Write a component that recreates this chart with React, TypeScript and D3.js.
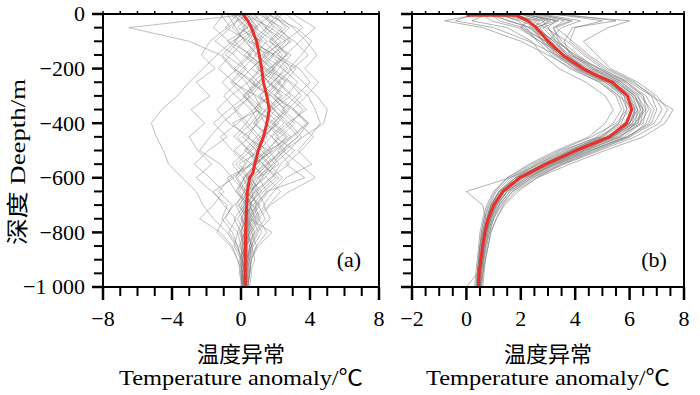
import React from "react";
import * as d3 from "d3";

// depth levels (m) for the ensemble members
const depthsA = [0, 50, 100, 150, 200, 250, 300, 350, 400, 450, 500, 550, 600, 650, 700, 750, 800, 850, 900, 950, 1000];
const depthsB = [0, 25, 50, 100, 150, 200, 250, 300, 350, 400, 450, 500, 550, 600, 650, 700, 750, 800, 850, 900, 950, 1000];

// (a) ensemble members, temperature anomaly at each depth
const membersA = [
  [0.5, -6.5, -3.0, -1.2, -0.5, 0.3, 0.8, 1.2, 0.6, -0.2, 0.4, 0.9, 0.2, -0.3, 0.5, 0.1, 0.4, 0.2, 0.0, 0.3, 0.2],
  [0.0, 0.8, -0.5, -1.4, -2.2, -3.0, -3.7, -4.6, -5.2, -4.9, -4.5, -4.2, -3.4, -2.6, -2.2, -1.6, -0.8, -0.3, 0.1, 0.0, 0.1],
  [1.5, 3.2, 4.1, 3.5, 2.8, 3.6, 4.4, 5.0, 4.8, 3.6, 2.5, 1.8, 1.2, 0.6, 0.9, 0.4, 0.7, 0.5, 0.3, 0.4, 0.3],
  [-0.8, -0.3, 0.2, -0.6, -1.3, -0.4, 0.5, -0.2, -1.1, -1.8, -2.4, -1.2, -0.5, 0.2, -0.3, 0.1, -0.2, 0.0, 0.1, 0.0, 0.1],
  [2.2, 1.4, 2.6, 1.8, 3.2, 2.5, 1.9, 3.0, 3.8, 2.9, 1.6, 2.2, 1.0, 1.5, 0.8, 1.1, 0.6, 0.9, 0.5, 0.6, 0.5],
  [0.3, 1.0, 0.4, 1.6, 0.9, 2.1, 1.3, 0.8, 2.0, 1.4, 0.6, -0.3, 0.4, -0.1, 0.6, 0.2, 0.0, 0.3, 0.2, 0.1, 0.2],
  [-1.2, -0.6, -1.5, -0.4, 0.3, -0.5, 0.9, 2.0, 1.4, 2.6, 1.9, 0.7, -0.6, -1.3, -0.5, -0.9, -0.2, -0.4, 0.0, -0.1, 0.1],
  [1.0, 2.4, 1.6, 2.9, 2.2, 1.5, 2.7, 3.6, 2.9, 2.0, 3.1, 2.3, 1.8, 0.9, 1.4, 0.7, 1.0, 0.6, 0.4, 0.5, 0.4],
  [0.6, -0.2, 1.2, 0.5, -0.4, 0.8, 0.2, 1.1, -0.5, 0.3, 1.6, 0.9, 0.1, 0.7, 0.0, 0.4, 0.2, -0.1, 0.3, 0.2, 0.1],
  [3.0, 4.3, 3.4, 2.6, 1.8, 2.9, 3.9, 4.3, 4.6, 4.0, 3.3, 4.1, 2.6, 1.9, 1.3, 1.7, 0.9, 0.6, 0.8, 0.5, 0.4],
  [-0.3, 0.9, -0.1, -0.9, 0.2, 1.0, 0.3, -0.7, -1.6, -0.8, -1.9, -2.7, -1.8, -1.0, -1.6, -2.4, -1.2, -0.5, -0.2, 0.0, 0.1],
  [1.8, 0.8, 1.9, 2.7, 1.6, 0.7, 1.8, 2.5, 1.7, 0.9, 0.2, 1.3, 2.0, 1.1, 0.5, 0.9, 0.4, 0.6, 0.3, 0.4, 0.3],
  [0.2, 1.7, 2.8, 2.1, 3.4, 4.0, 3.2, 2.4, 3.3, 4.2, 3.5, 2.6, 3.7, 1.5, 0.9, 0.4, 0.8, 0.3, 0.5, 0.3, 0.2],
  [-0.5, 0.4, -0.8, 0.1, 1.1, 0.4, -0.6, -1.4, -0.7, 0.5, -0.4, 0.6, -0.8, -0.3, 0.3, -0.2, 0.2, 0.0, 0.2, 0.1, 0.0],
  [2.6, 3.6, 2.5, 1.3, 2.4, 3.3, 2.6, 1.6, 2.5, 1.7, 1.1, -0.1, 0.5, 1.2, 0.4, 0.0, 0.5, 0.2, 0.4, 0.2, 0.3],
  [0.9, 0.1, 0.7, 1.4, 0.6, 1.7, 2.4, 1.5, 0.7, 1.8, 2.6, 1.5, 0.8, 0.3, 1.1, 0.6, 0.2, 0.7, 0.4, 0.3, 0.2],
  [-1.0, -1.6, -0.7, 0.6, -0.2, -1.1, -0.3, 0.6, 1.0, 0.1, 0.9, 1.7, 1.0, 0.6, -0.2, 0.5, 0.1, 0.3, -0.1, 0.1, 0.2],
  [1.3, 2.0, 3.1, 3.9, 3.0, 2.2, 1.4, 2.2, 3.1, 2.3, 1.5, 0.6, 1.5, 2.3, 1.6, 0.8, 1.2, 0.7, 0.5, 0.4, 0.4],
  [0.4, -0.8, -1.8, -2.3, -1.5, -2.6, -1.8, -2.9, -2.1, -3.0, -2.5, -1.7, -2.6, -1.7, -0.8, -1.1, -0.5, -0.2, 0.0, 0.1, 0.1],
  [2.0, 3.0, 3.8, 4.4, 3.7, 4.5, 3.8, 3.0, 3.9, 3.3, 2.3, 1.6, 2.4, 1.6, 1.0, 1.4, 0.8, 0.5, 0.6, 0.4, 0.4],
  [0.1, 0.6, 1.5, 0.8, 1.9, 1.1, 0.4, 1.3, 2.2, 1.2, 0.5, 1.1, 0.4, 0.9, 0.3, 0.6, 0.4, 0.2, 0.3, 0.3, 0.2],
  [-0.6, 0.2, -0.3, -1.1, -0.4, 0.6, 1.6, 0.7, -0.2, -1.2, -0.5, 0.3, -0.4, -1.6, -1.0, -0.3, -0.7, -0.2, 0.1, 0.0, 0.0],
  [1.2, 1.9, 1.0, 0.2, 1.3, 2.2, 3.0, 3.8, 2.7, 1.8, 2.4, 3.4, 4.3, 2.8, 1.7, 1.0, 1.5, 0.9, 0.6, 0.5, 0.4],
  [0.7, 1.4, 2.3, 1.5, 0.6, -0.2, -1.0, -0.3, 0.4, 1.1, 0.3, -0.5, 0.1, 0.5, 0.2, -0.4, 0.0, 0.1, 0.0, 0.2, 0.1],
  [1.6, 2.8, 2.0, 1.2, 2.0, 1.3, 0.6, -0.4, 0.2, 0.9, 1.4, 0.5, -0.2, 0.3, 1.0, 0.5, 1.8, 1.0, 0.6, 0.5, 0.3],
  [-0.2, -0.9, 0.5, 2.0, 2.7, 1.8, 1.1, 1.9, 2.8, 3.5, 2.8, 1.9, 0.9, 0.4, -0.4, -1.0, -1.4, -0.6, -0.2, 0.1, 0.1],
  [0.8, 1.5, 0.6, 1.9, 1.2, 0.5, 1.7, 2.6, 1.9, 1.1, 1.8, 0.9, 0.3, 0.8, 0.2, 0.5, 0.3, 0.4, 0.2, 0.3, 0.2],
  [-0.4, 0.3, 1.1, 0.4, 1.5, 2.3, 1.6, 0.9, 1.4, 2.2, 1.5, 0.7, 1.3, 0.6, 0.1, 0.4, -0.1, 0.2, 0.1, 0.2, 0.1],
  [1.9, 2.6, 1.7, 2.4, 1.7, 2.6, 2.0, 2.8, 2.1, 1.3, 0.8, 1.6, 0.7, 0.2, 0.6, 0.3, 0.5, 0.1, 0.3, 0.2, 0.2],
  [0.0, -0.5, 0.3, 0.9, 0.1, -0.6, 0.2, 0.9, 1.8, 2.7, 1.7, 0.8, 0.2, -0.2, 0.4, 0.0, 0.3, 0.1, 0.2, 0.1, 0.1],
  [2.4, 1.6, 0.9, 1.7, 2.5, 1.9, 1.0, 1.9, 2.6, 3.3, 2.4, 1.4, 0.6, 1.0, 0.5, 0.8, 0.3, 0.5, 0.4, 0.3, 0.3],
  [0.5, 1.2, 2.0, 2.6, 1.9, 1.0, 0.1, 0.9, 0.3, -0.4, 0.5, 1.3, 0.6, 0.1, 0.7, 0.3, 0.6, 0.3, 0.1, 0.2, 0.2],
  [1.1, 0.3, -0.4, 0.5, 1.4, 2.8, 3.5, 2.7, 1.9, 2.9, 2.0, 1.2, 2.2, 1.3, 0.7, 1.0, 0.5, 0.3, 0.4, 0.3, 0.3],
  [-0.1, 0.5, 1.3, 2.2, 2.9, 2.1, 2.9, 1.8, 0.9, 0.4, 1.2, 2.0, 1.4, 0.4, -0.1, 0.3, 0.0, 0.2, 0.3, 0.1, 0.2],
  [1.4, 2.2, 2.9, 1.8, 1.0, 1.6, 2.3, 1.4, 0.8, 1.5, 0.9, 0.2, -0.3, 0.2, 0.6, 0.2, 0.4, 0.6, 0.3, 0.2, 0.1],
  [0.3, 0.9, 0.2, 1.0, 1.7, 1.0, 2.0, 3.1, 3.9, 3.0, 2.1, 2.8, 1.7, 0.8, 0.3, 0.7, 0.2, 0.4, 0.2, 0.3, 0.2],
];

// (b) ensemble members
const membersB = [
  [0.5, -0.8, 0.6, 2.0, 3.0, 3.9, 4.9, 5.6, 6.2, 6.0, 5.4, 4.2, 3.1, 2.1, 1.4, 1.0, 0.85, 0.7, 0.62, 0.55, 0.5, 0.45],
  [2.5, 3.6, 3.2, 3.5, 4.1, 4.8, 5.9, 6.6, 6.9, 6.7, 5.9, 4.6, 3.3, 2.3, 1.6, 1.2, 0.95, 0.8, 0.7, 0.62, 0.55, 0.5],
  [1.2, 1.9, 2.2, 2.6, 3.1, 3.8, 4.9, 5.5, 5.7, 5.4, 4.8, 3.6, 2.6, 1.7, 1.2, 0.9, 0.7, 0.6, 0.5, 0.45, 0.4, 0.4],
  [3.0, 6.0, 5.2, 4.3, 4.8, 5.3, 6.3, 7.0, 7.4, 7.1, 6.2, 4.9, 3.6, 2.5, 1.7, 1.3, 1.0, 0.85, 0.75, 0.65, 0.6, 0.55],
  [0.8, 0.2, 1.5, 2.4, 2.8, 3.4, 4.4, 5.1, 5.4, 5.1, 4.5, 3.3, 2.3, 1.5, 1.0, 0.75, 0.6, 0.5, 0.45, 0.4, 0.35, 0.3],
  [2.0, 2.8, 3.0, 3.4, 3.9, 4.6, 5.6, 6.3, 6.6, 6.5, 5.6, 4.4, 3.2, 2.2, 1.5, 1.1, 0.9, 0.75, 0.65, 0.6, 0.5, 0.45],
  [1.5, 2.3, 2.0, 2.9, 3.5, 4.3, 5.4, 6.0, 6.2, 6.1, 5.2, 3.9, 2.8, 1.9, 1.3, 1.0, 0.8, 0.65, 0.6, 0.5, 0.45, 0.4],
  [3.5, 5.5, 3.9, 3.6, 3.8, 4.9, 6.0, 6.8, 7.6, 7.3, 6.5, 5.1, 3.8, 2.6, 1.9, 1.4, 1.1, 0.9, 0.8, 0.7, 0.65, 0.6],
  [0.3, -0.4, 1.0, 2.3, 3.3, 4.1, 5.1, 5.8, 6.0, 5.6, 4.9, 3.8, 2.7, 1.6, 0.0, 0.6, 0.7, 0.6, 0.5, 0.45, 0.4, 0.0],
  [2.2, 3.1, 2.6, 3.2, 3.7, 4.5, 5.5, 6.2, 6.4, 6.3, 5.5, 4.1, 3.0, 2.0, 1.4, 1.05, 0.85, 0.7, 0.6, 0.55, 0.5, 0.45],
  [1.8, 2.4, 2.9, 3.7, 4.3, 5.0, 5.9, 6.5, 6.7, 6.4, 5.8, 4.6, 3.4, 2.4, 1.6, 1.2, 0.95, 0.8, 0.7, 0.6, 0.55, 0.5],
  [2.8, 4.2, 3.5, 3.0, 3.4, 4.2, 5.2, 5.9, 6.1, 5.8, 5.0, 3.7, 2.6, 1.8, 1.2, 0.9, 0.75, 0.6, 0.55, 0.5, 0.45, 0.4],
  [1.0, 1.5, 2.4, 3.3, 4.0, 4.7, 5.7, 6.4, 6.8, 6.6, 6.0, 4.8, 3.5, 2.4, 1.7, 1.25, 1.0, 0.85, 0.7, 0.65, 0.6, 0.5],
  [2.4, 3.3, 2.5, 2.8, 3.2, 4.0, 5.1, 5.7, 5.9, 5.7, 4.9, 3.5, 2.5, 1.6, 1.1, 0.85, 0.65, 0.55, 0.5, 0.45, 0.4, 0.35],
  [0.6, 0.9, 1.9, 2.7, 3.6, 4.4, 5.4, 6.1, 6.5, 6.3, 5.4, 4.2, 3.1, 2.0, 1.3, 0.95, 0.8, 0.7, 0.6, 0.55, 0.5, 0.45],
  [3.2, 5.0, 4.0, 3.8, 4.4, 5.1, 6.1, 6.9, 7.2, 6.9, 6.0, 4.7, 3.5, 2.6, 1.8, 1.35, 1.1, 0.9, 0.8, 0.7, 0.6, 0.55],
  [1.4, 2.6, 2.3, 3.1, 3.7, 4.4, 5.3, 5.8, 5.9, 5.5, 4.6, 3.4, 2.4, 1.5, 1.05, 0.8, 0.65, 0.55, 0.5, 0.45, 0.4, 0.35],
  [2.6, 3.9, 3.3, 3.9, 4.5, 5.2, 6.2, 6.8, 7.0, 6.8, 5.9, 4.5, 3.3, 2.2, 1.5, 1.15, 0.9, 0.75, 0.65, 0.6, 0.55, 0.5],
  [0.9, 1.2, 2.1, 2.9, 3.4, 4.2, 5.2, 5.8, 6.3, 6.2, 5.3, 4.0, 3.0, 1.9, 1.2, 0.9, 0.75, 0.65, 0.55, 0.5, 0.45, 0.4],
  [2.0, 3.4, 2.8, 3.3, 4.0, 4.9, 5.7, 6.3, 6.5, 6.2, 5.7, 4.4, 3.2, 2.3, 1.5, 1.1, 0.9, 0.75, 0.65, 0.55, 0.5, 0.45],
  [1.6, 2.7, 2.5, 3.0, 3.6, 4.3, 5.3, 5.9, 6.1, 5.9, 5.2, 4.0, 2.9, 1.9, 1.3, 1.0, 0.8, 0.68, 0.6, 0.52, 0.47, 0.43],
  [2.3, 3.0, 2.7, 3.1, 3.5, 4.1, 5.2, 6.0, 6.3, 6.0, 5.1, 3.8, 2.8, 1.8, 1.25, 0.95, 0.78, 0.66, 0.58, 0.5, 0.45, 0.42],
  [1.1, 2.0, 2.6, 3.2, 3.8, 4.6, 5.6, 6.2, 6.4, 6.1, 5.4, 4.3, 3.2, 2.1, 1.5, 1.1, 0.88, 0.72, 0.64, 0.56, 0.5, 0.46],
  [2.7, 3.8, 3.2, 3.4, 3.9, 4.7, 5.8, 6.5, 6.6, 6.2, 5.3, 4.0, 2.8, 1.9, 1.3, 1.0, 0.82, 0.7, 0.6, 0.55, 0.48, 0.44],
  [0.7, 1.6, 2.3, 2.9, 3.3, 4.0, 5.0, 5.6, 5.8, 5.6, 5.0, 3.9, 2.8, 1.8, 1.2, 0.92, 0.75, 0.64, 0.56, 0.5, 0.44, 0.4],
  [1.9, 2.9, 2.4, 2.8, 3.4, 4.2, 5.5, 6.2, 6.5, 6.4, 5.6, 4.3, 3.0, 2.0, 1.4, 1.05, 0.85, 0.72, 0.62, 0.55, 0.5, 0.46],
  [2.1, 3.3, 3.0, 3.3, 3.7, 4.4, 5.4, 6.1, 6.3, 6.0, 5.2, 3.9, 2.9, 2.0, 1.4, 1.0, 0.8, 0.7, 0.62, 0.55, 0.48, 0.44],
  [1.3, 2.2, 2.0, 2.7, 3.3, 4.2, 5.2, 5.9, 6.2, 6.0, 5.3, 4.1, 3.0, 1.9, 1.35, 1.0, 0.82, 0.7, 0.6, 0.52, 0.46, 0.42],
];

// ensemble means (red)
const meanDepthsA = [0, 25, 50, 100, 150, 200, 250, 300, 350, 400, 450, 500, 550, 580, 600, 650, 700, 800, 900, 1000];
const meanA = [0.1, 0.4, 0.6, 0.9, 1.06, 1.2, 1.3, 1.5, 1.64, 1.5, 1.3, 1.0, 0.8, 0.7, 0.5, 0.37, 0.33, 0.27, 0.25, 0.25];
const meanDepthsB = [5, 5, 25, 50, 100, 150, 200, 225, 250, 300, 350, 400, 450, 500, 550, 600, 650, 700, 750, 800, 850, 900, 950, 1000];
const meanB = [0.0, 1.84, 2.26, 2.57, 3.0, 3.55, 4.28, 4.77, 5.37, 5.92, 6.08, 5.89, 5.25, 4.03, 2.94, 1.96, 1.35, 1.01, 0.8, 0.68, 0.6, 0.53, 0.47, 0.44];

const yTickValues = [0, 200, 400, 600, 800, 1000];
const yTickLabels = ["0", "\u2212200", "\u2212400", "\u2212600", "\u2212800", "\u22121 000"];
const xTicksA = [-8, -4, 0, 4, 8];
const xLabelsA = ["\u22128", "\u22124", "0", "4", "8"];
const xTicksB = [-2, 0, 2, 4, 6, 8];
const xLabelsB = ["\u22122", "0", "2", "4", "6", "8"];

const TOP = 14;
const BOTTOM = 287;
const FONT = "Liberation Serif, Times New Roman, Noto Sans CJK SC, serif";

type PanelProps = {
  id: string;
  left: number;
  right: number;
  domain: [number, number];
  minorCount: number;
  depths: number[];
  members: number[][];
  meanDepths: number[];
  meanValues: number[];
  majors: number[];
  majorLabels: string[];
  yLabels: boolean;
  tag: string;
  grayOpacity: number;
};

const Panel = (p: PanelProps) => {
  const x = d3.scaleLinear().domain(p.domain).range([p.left, p.right]);
  const y = d3.scaleLinear().domain([0, 1000]).range([TOP, BOTTOM]);
  const line = d3
    .line<[number, number]>()
    .x((d) => x(d[0]))
    .y((d) => y(d[1]));

  const xMinor = x.ticks(p.minorCount);
  const yMinor = y.ticks(20);
  const isMajorX = (v: number) => p.majors.some((m) => Math.abs(m - v) < 1e-6);

  return (
    <g>
      <defs>
        <clipPath id={"clip-" + p.id}>
          <rect x={p.left} y={TOP} width={p.right - p.left} height={BOTTOM - TOP} />
        </clipPath>
      </defs>
      <g clipPath={`url(#clip-${p.id})`}>
        {p.members.map((m, i) => (
          <path
            key={i}
            d={line(m.map((v, j) => [v, p.depths[j]]) as [number, number][]) || ""}
            fill="none"
            stroke="#7f7f7f"
            strokeOpacity={p.grayOpacity}
            strokeWidth={1}
            strokeLinejoin="round"
          />
        ))}
        <path
          d={line(p.meanValues.map((v, j) => [v, p.meanDepths[j]]) as [number, number][]) || ""}
          fill="none"
          stroke="#e8312a"
          strokeWidth={3}
          strokeLinejoin="round"
        />
      </g>
      <rect
        x={p.left}
        y={TOP}
        width={p.right - p.left}
        height={BOTTOM - TOP}
        fill="none"
        stroke="#000"
        strokeWidth={2}
      />
      {yMinor.map((v) => (
        <line
          key={"y" + v}
          x1={p.left - (v % 200 === 0 ? 11 : 9)}
          x2={p.left}
          y1={y(v)}
          y2={y(v)}
          stroke="#000"
          strokeWidth={v % 200 === 0 ? 2.5 : 2}
        />
      ))}
      {xMinor.map((v) => (
        <g key={"x" + v}>
          <line
            x1={x(v)}
            x2={x(v)}
            y1={BOTTOM}
            y2={BOTTOM + (isMajorX(v) ? 13 : 9)}
            stroke="#000"
            strokeWidth={isMajorX(v) ? 2.5 : 2}
          />
          <line x1={x(v)} x2={x(v)} y1={TOP} y2={TOP - 3} stroke="#000" strokeWidth={1.5} />
        </g>
      ))}
      {p.yLabels &&
        yTickValues.map((v, i) => (
          <text key={"yl" + v} x={85} y={y(v)} dy="0.34em" textAnchor="end" fontSize={22}>
            {yTickLabels[i]}
          </text>
        ))}
      {p.majors.map((v, i) => (
        <text key={"xl" + v} x={x(v)} y={326} textAnchor="middle" fontSize={22}>
          {p.majorLabels[i]}
        </text>
      ))}
      <text x={(p.left + p.right) / 2} y={362} textAnchor="middle" fontSize={22}>
        温度异常
      </text>
      <text
        x={(p.left + p.right) / 2}
        y={385}
        textAnchor="middle"
        fontSize={22}
        textLength={244}
        lengthAdjust="spacingAndGlyphs"
      >
        Temperature anomaly/℃
      </text>
      <text x={p.right - 30} y={267} textAnchor="middle" fontSize={22}>
        {p.tag}
      </text>
    </g>
  );
};

export default function App() {
  return (
    <svg
      width={700}
      height={395}
      style={{ position: "absolute", left: 0, top: 0, background: "#fff", fontFamily: FONT }}
    >
      <text
        transform="translate(25,162) rotate(-90)"
        textAnchor="middle"
        fontSize={22}
        textLength={166}
        lengthAdjust="spacingAndGlyphs"
      >
        深度 Deepth/m
      </text>
      <Panel
        id="a"
        left={103}
        right={379}
        domain={[-8, 8]}
        minorCount={16}
        depths={depthsA}
        members={membersA}
        meanDepths={meanDepthsA}
        meanValues={meanA}
        majors={xTicksA}
        majorLabels={xLabelsA}
        yLabels={true}
        tag="(a)"
        grayOpacity={0.5}
      />
      <Panel
        id="b"
        left={412}
        right={684}
        domain={[-2, 8]}
        minorCount={20}
        depths={depthsB}
        members={membersB}
        meanDepths={meanDepthsB}
        meanValues={meanB}
        majors={xTicksB}
        majorLabels={xLabelsB}
        yLabels={false}
        tag="(b)"
        grayOpacity={0.6}
      />
    </svg>
  );
}
